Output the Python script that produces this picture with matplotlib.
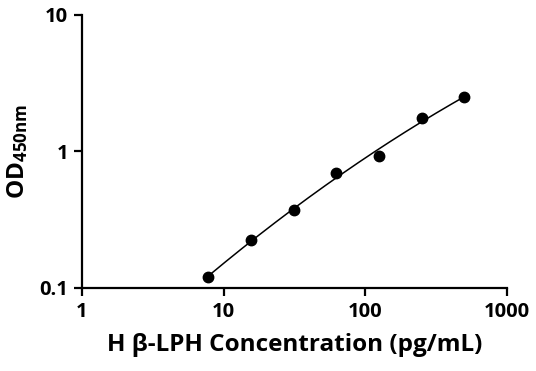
import numpy as np
import matplotlib.pyplot as plt

# standard curve data
conc = [7.8, 15.6, 31.25, 62.5, 125, 250, 500]
od = [0.121, 0.224, 0.371, 0.699, 0.924, 1.76, 2.49]

x_ticks = [1, 10, 100, 1000]
x_tick_labels = ['1', '10', '100', '1000']
y_ticks = [0.1, 1, 10]
y_tick_labels = ['0.1', '1', '10']

plt.rcParams['font.family'] = ['Open Sans', 'DejaVu Sans']
plt.rcParams['font.weight'] = 'bold'
plt.rcParams['mathtext.fontset'] = 'custom'
plt.rcParams['mathtext.rm'] = 'Open Sans:bold'
plt.rcParams['mathtext.it'] = 'Open Sans:bold'
plt.rcParams['mathtext.bf'] = 'Open Sans:bold'

fig = plt.figure(figsize=(5.36, 3.71), dpi=100)
ax = fig.add_axes([0.153, 0.224, 0.793, 0.736])

# smooth fit in log-log space
lx = np.log10(conc)
ly = np.log10(od)
coef = np.polyfit(lx, ly, 2)
xs = np.linspace(lx[0], lx[-1], 200)
ax.plot(10 ** xs, 10 ** np.polyval(coef, xs), color='black', linewidth=1.1)
ax.plot(conc, od, 'o', color='black', markersize=7.5)

ax.set_xscale('log')
ax.set_yscale('log')
ax.set_xlim(1, 1000)
ax.set_ylim(0.1, 10)
ax.set_xticks(x_ticks)
ax.set_xticklabels(x_tick_labels)
ax.set_yticks(y_ticks)
ax.set_yticklabels(y_tick_labels)
ax.minorticks_off()

for side in ['top', 'right']:
	ax.spines[side].set_visible(False)
for side in ['left', 'bottom']:
	ax.spines[side].set_linewidth(1.6)
ax.tick_params(axis='both', which='major', direction='out', length=6, width=1.6,
			   labelsize=14.5, pad=4)

ax.set_xlabel('H β-LPH Concentration (pg/mL)', fontsize=17.5, fontweight='bold', labelpad=8)
ax.set_ylabel(r'OD$_{\mathrm{450nm}}$', fontsize=17.5, fontweight='bold', va='center')
ax.yaxis.set_label_coords(-0.152, 0.5)

fig.savefig('out.png', dpi=100)
